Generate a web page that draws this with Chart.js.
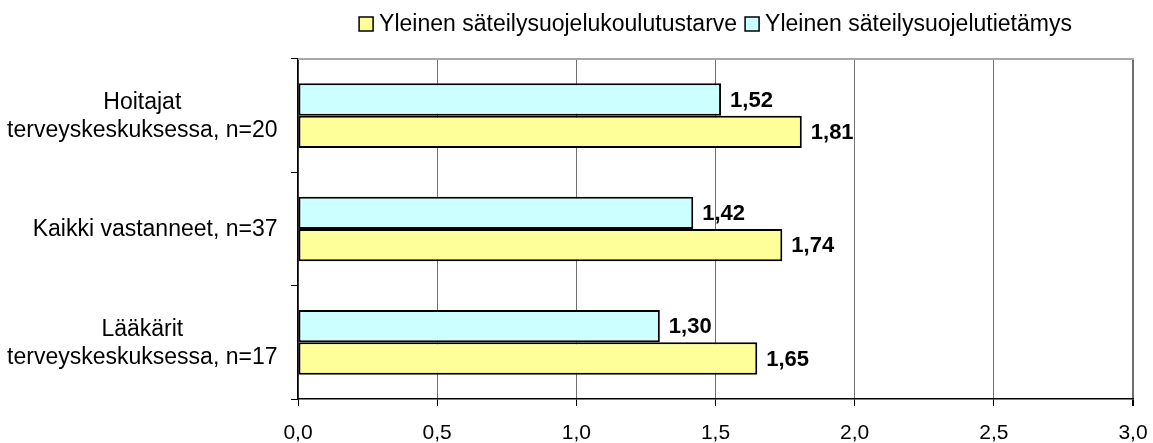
<!DOCTYPE html>
<html>
<head>
<meta charset="utf-8">
<script src="https://cdn.jsdelivr.net/npm/chart.js@4.4.0/dist/chart.umd.min.js"></script>
<style>
  body { margin: 0; background: #fff; }
  #wrap { width: 1153px; height: 443px; position: relative; }
</style>
</head>
<body>
<div id="wrap"><canvas id="myChart"></canvas></div>
<script>
// categories (top to bottom) and the two series
const groups = [
  ['Hoitajat', 'terveyskeskuksessa, n=20'],
  'Kaikki vastanneet, n=37',
  ['Lääkärit', 'terveyskeskuksessa, n=17']
];
const tietamys = [1.52, 1.42, 1.30];
const koulutustarve = [1.81, 1.74, 1.65];
const xTicks = [0, 0.5, 1.0, 1.5, 2.0, 2.5, 3.0];

const FONT = "'Liberation Sans', Arial, sans-serif";
const fmt = (v, d) => v.toFixed(d).replace('.', ',');

// legend centred over the plot area, yellow entry first
const topLegend = {
  id: 'topLegend',
  afterDraw(chart) {
    const ctx = chart.ctx;
    const area = chart.chartArea;
    const items = chart.data.datasets.slice().reverse();
    const box = 14, gapText = 6, gapItem = 8;
    ctx.save();
    ctx.font = '23px ' + FONT;
    let total = 0;
    items.forEach((ds, i) => {
      total += box + gapText + ctx.measureText(ds.label).width;
      if (i < items.length - 1) total += gapItem;
    });
    let x = (area.left + area.right) / 2 - total / 2;
    const y = 24;
    ctx.textBaseline = 'middle';
    ctx.textAlign = 'left';
    items.forEach(ds => {
      ctx.fillStyle = ds.backgroundColor;
      ctx.fillRect(x, y - box / 2, box, box);
      ctx.lineWidth = 1.5;
      ctx.strokeStyle = '#000';
      ctx.strokeRect(x, y - box / 2, box, box);
      x += box + gapText;
      ctx.fillStyle = '#000';
      ctx.fillText(ds.label, x, y + 1);
      x += ctx.measureText(ds.label).width + gapItem;
    });
    ctx.restore();
  }
};

// category names: each block right-aligned to the axis, its lines centred
const categoryNames = {
  id: 'categoryNames',
  afterDraw(chart) {
    const ctx = chart.ctx;
    const ys = chart.scales.y;
    const lh = 28.3;
    ctx.save();
    ctx.font = '23px ' + FONT;
    ctx.fillStyle = '#000';
    ctx.textAlign = 'center';
    ctx.textBaseline = 'middle';
    chart.data.labels.forEach((lab, i) => {
      const lines = [].concat(lab);
      const w = Math.max(...lines.map(l => ctx.measureText(l).width));
      const cx = ys.right - 20.5 - w / 2;
      const cy = ys.getPixelForTick(i);
      lines.forEach((ln, k) => {
        ctx.fillText(ln, cx, cy + 1 + (k - (lines.length - 1) / 2) * lh);
      });
    });
    ctx.restore();
  }
};

// value labels at the end of each bar, plus the light top frame line
const barValues = {
  id: 'barValues',
  beforeDatasetsDraw(chart) {
    const ctx = chart.ctx, a = chart.chartArea;
    ctx.save();
    ctx.strokeStyle = '#a8a8a8';
    ctx.lineWidth = 2;
    ctx.beginPath();
    ctx.moveTo(a.left, a.top);
    ctx.lineTo(a.right + 1, a.top);
    ctx.stroke();
    ctx.restore();
  },
  afterDatasetsDraw(chart) {
    const ctx = chart.ctx;
    ctx.save();
    ctx.font = 'bold 22px ' + FONT;
    ctx.fillStyle = '#000';
    ctx.textBaseline = 'middle';
    ctx.textAlign = 'left';
    chart.data.datasets.forEach((ds, i) => {
      chart.getDatasetMeta(i).data.forEach((bar, j) => {
        ctx.fillText(fmt(ds.data[j], 2), bar.x + 9, bar.y + 1);
      });
    });
    ctx.restore();
  }
};

new Chart(document.getElementById('myChart'), {
  type: 'bar',
  data: {
    labels: groups,
    datasets: [
      {
        label: 'Yleinen säteilysuojelutietämys',
        data: tietamys,
        backgroundColor: '#CCFFFF',
        borderColor: '#000',
        borderWidth: 2,
        borderSkipped: false
      },
      {
        label: 'Yleinen säteilysuojelukoulutustarve',
        data: koulutustarve,
        backgroundColor: '#FFFF99',
        borderColor: '#000',
        borderWidth: 2,
        borderSkipped: false
      }
    ]
  },
  options: {
    indexAxis: 'y',
    responsive: true,
    maintainAspectRatio: false,
    animation: false,
    categoryPercentage: 0.57,
    barPercentage: 1.0,
    layout: { padding: { top: 59, right: 20, bottom: 0, left: 0 } },
    plugins: {
      legend: { display: false },
      tooltip: { enabled: false }
    },
    scales: {
      x: {
        min: 0,
        max: 3,
        afterBuildTicks(scale) {
          scale.ticks = xTicks.map(v => ({ value: v }));
        },
        afterFit(scale) {
          scale.height = 44;
          // let the last tick label hang past the plot edge
          scale.paddingLeft = 0;
          scale.paddingRight = 0;
        },
        grid: {
          color: '#707070',
          lineWidth: ctx => (ctx.index === xTicks.length - 1 ? 2 : 1),
          tickColor: '#000',
          tickLength: 7
        },
        border: { color: '#000', width: 1.5 },
        ticks: {
          color: '#000',
          font: { family: FONT, size: 21 },
          padding: 15,
          maxRotation: 0,
          callback: v => fmt(v, 1)
        }
      },
      y: {
        afterFit(scale) { scale.width = 298; },
        grid: {
          drawOnChartArea: false,
          tickColor: '#000',
          tickLength: 7,
          offset: true
        },
        border: { color: '#000', width: 1.5 },
        ticks: { display: false }
      }
    }
  },
  plugins: [topLegend, categoryNames, barValues]
});
</script>
</body>
</html>
